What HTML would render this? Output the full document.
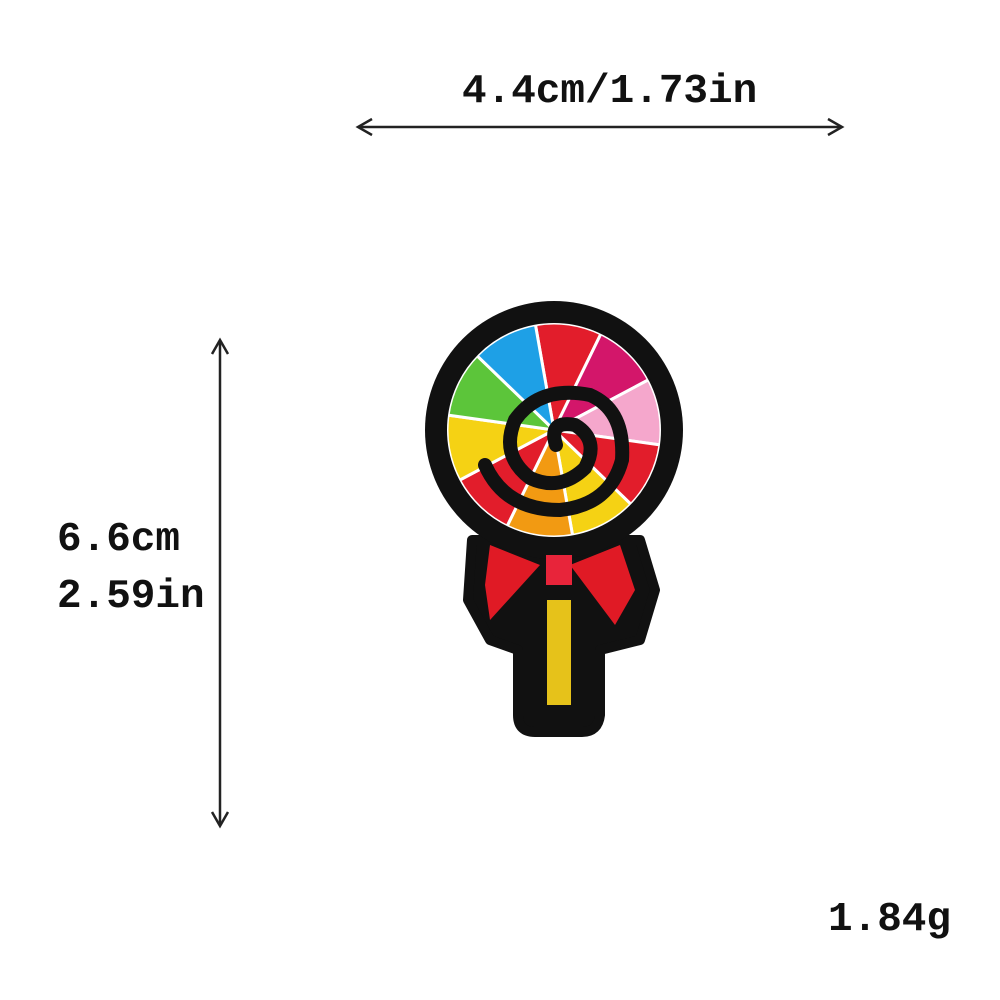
<!DOCTYPE html>
<html><head><meta charset="utf-8"><style>
html,body{margin:0;padding:0;background:#fff;width:1000px;height:1000px;overflow:hidden}
svg text{font-family:"Liberation Mono",monospace;font-size:41px;fill:#111;font-weight:bold}
</style></head><body>
<svg width="1000" height="1000" viewBox="0 0 1000 1000">
<text x="462" y="102">4.4cm/1.73in</text>
<g stroke="#222" stroke-width="2.5" fill="none">
<line x1="358" y1="127" x2="842" y2="127"/><polyline points="372,119 358,127 372,135"/><polyline points="828,119 842,127 828,135"/></g>
<g stroke="#222" stroke-width="2.5" fill="none">
<line x1="220" y1="340" x2="220" y2="826"/><polyline points="212,354 220,340 228,354"/><polyline points="212,812 220,826 228,812"/></g>
<text x="57" y="550">6.6cm</text>
<text x="57" y="607">2.59in</text>
<text x="828" y="930">1.84g</text>
<g>
<path d="M472 540 L640 540 L655 590 L640 640 L600 650 L600 715 Q598 732 582 732 L535 732 Q518 732 518 715 L518 650 L490 640 L468 600 Z" fill="#111" stroke="#111" stroke-width="10" stroke-linejoin="round"/>
<circle cx="554" cy="430" r="129" fill="#111"/>
<g id="w"></g>
<circle cx="554" cy="430" r="108" fill="none" stroke="#111" stroke-width="2"/>
<path d="M490 545 L540 565 L490 620 L485 585 Z" fill="#e01a25"/>
<path d="M620 545 L570 565 L615 625 L635 590 Z" fill="#e01a25"/>
<rect x="546" y="555" width="26" height="30" fill="#e8243a"/>
<rect x="547" y="600" width="24" height="105" fill="#e6c21a"/>
<path d="M556 445 Q548 420 575 425 Q600 440 585 468 Q560 492 530 478 Q500 455 515 420 Q540 385 590 395 Q625 410 622 460 Q610 505 560 510 Q505 510 485 465" fill="none" stroke="#111" stroke-width="14" stroke-linecap="round"/>
</g>
</svg>
<script>
const colors=["#e21d2b","#d3166a","#f5a7cc","#e21d2b","#f5d214","#f29a12","#e21d2b","#f5d214","#5cc53a","#1ea0e6"];
const g=document.getElementById('w');
const cx=554,cy=430,r=107,n=colors.length;
colors.forEach((c,i)=>{
 const a0=(-100+i*36)*Math.PI/180,a1=a0+36*Math.PI/180;
 const p=document.createElementNS('http://www.w3.org/2000/svg','path');
 p.setAttribute('d',`M${cx} ${cy} L${cx+r*Math.cos(a0)} ${cy+r*Math.sin(a0)} A${r} ${r} 0 0 1 ${cx+r*Math.cos(a1)} ${cy+r*Math.sin(a1)} Z`);
 p.setAttribute('fill',c);p.setAttribute('stroke','#fff');p.setAttribute('stroke-width','3');
 
 
 g.appendChild(p);
});
</script>
</body></html>
